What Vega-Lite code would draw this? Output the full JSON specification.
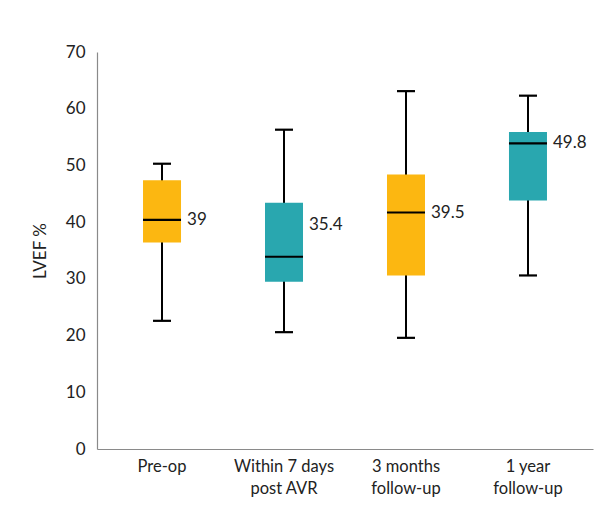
{
  "$schema": "https://vega.github.io/schema/vega-lite/v6.json",
  "width": 496,
  "height": 397,
  "autosize": {"type": "none"},
  "padding": {"left": 97, "top": 52, "right": 20, "bottom": 61},
  "background": "white",
  "config": {
    "view": {"stroke": null},
    "font": "Lato",
    "axis": {"labelFont": "Lato", "titleFont": "Lato", "labelColor": "#222", "titleColor": "#222", "grid": false, "ticks": false, "domainColor": "#8a8a8a", "domainWidth": 1.2}
  },
  "data": {
    "values": [
      {"group": "Pre-op", "low": 22.6, "q1": 36.4, "median": 40.4, "q3": 47.4, "high": 50.3, "mean": "39", "labelAt": 40.4, "phase": "A"},
      {"group": "Within 7 days\npost AVR", "low": 20.6, "q1": 29.5, "median": 33.9, "q3": 43.4, "high": 56.3, "mean": "35.4", "labelAt": 39.5, "phase": "B"},
      {"group": "3 months\nfollow-up", "low": 19.6, "q1": 30.6, "median": 41.7, "q3": 48.4, "high": 63.1, "mean": "39.5", "labelAt": 41.7, "phase": "A"},
      {"group": "1 year\nfollow-up", "low": 30.6, "q1": 43.8, "median": 53.9, "q3": 55.9, "high": 62.3, "mean": "49.8", "labelAt": 53.9, "phase": "B"}
    ]
  },
  "encoding": {
    "x": {
      "field": "group", "type": "nominal", "sort": null,
      "scale": {"paddingInner": 0, "paddingOuter": 0.033},
      "axis": {"title": null, "labelAngle": 0, "labelFontSize": 16.5, "labelPadding": 9, "labelLineHeight": 22, "labelExpr": "split(datum.label, '\\n')", "labelBaseline": "top"}
    }
  },
  "layer": [
    {
      "mark": {"type": "rule", "color": "black", "strokeWidth": 2},
      "encoding": {
        "y": {"field": "low", "type": "quantitative", "scale": {"domain": [0, 70]},
          "axis": {"title": "LVEF %", "values": [0, 10, 20, 30, 40, 50, 60, 70], "labelFontSize": 17, "labelPadding": 12, "titleFontSize": 17, "titleFontWeight": "normal", "titlePadding": 16}},
        "y2": {"field": "high"}
      }
    },
    {
      "mark": {"type": "bar", "size": 38},
      "encoding": {
        "y": {"field": "q1", "type": "quantitative"},
        "y2": {"field": "q3"},
        "color": {"field": "phase", "type": "nominal", "scale": {"domain": ["A", "B"], "range": ["#FCB711", "#29A7AF"]}, "legend": null}
      }
    },
    {
      "mark": {"type": "tick", "color": "black", "size": 38, "thickness": 2.2, "opacity": 1},
      "encoding": {"y": {"field": "median", "type": "quantitative"}}
    },
    {
      "mark": {"type": "tick", "color": "black", "size": 18, "thickness": 2.2, "opacity": 1},
      "encoding": {"y": {"field": "low", "type": "quantitative"}}
    },
    {
      "mark": {"type": "tick", "color": "black", "size": 18, "thickness": 2.2, "opacity": 1},
      "encoding": {"y": {"field": "high", "type": "quantitative"}}
    },
    {
      "mark": {"type": "text", "align": "left", "baseline": "middle", "dx": 25, "fontSize": 17, "color": "#222"},
      "encoding": {
        "y": {"field": "labelAt", "type": "quantitative"},
        "text": {"field": "mean", "type": "nominal"}
      }
    }
  ]
}
